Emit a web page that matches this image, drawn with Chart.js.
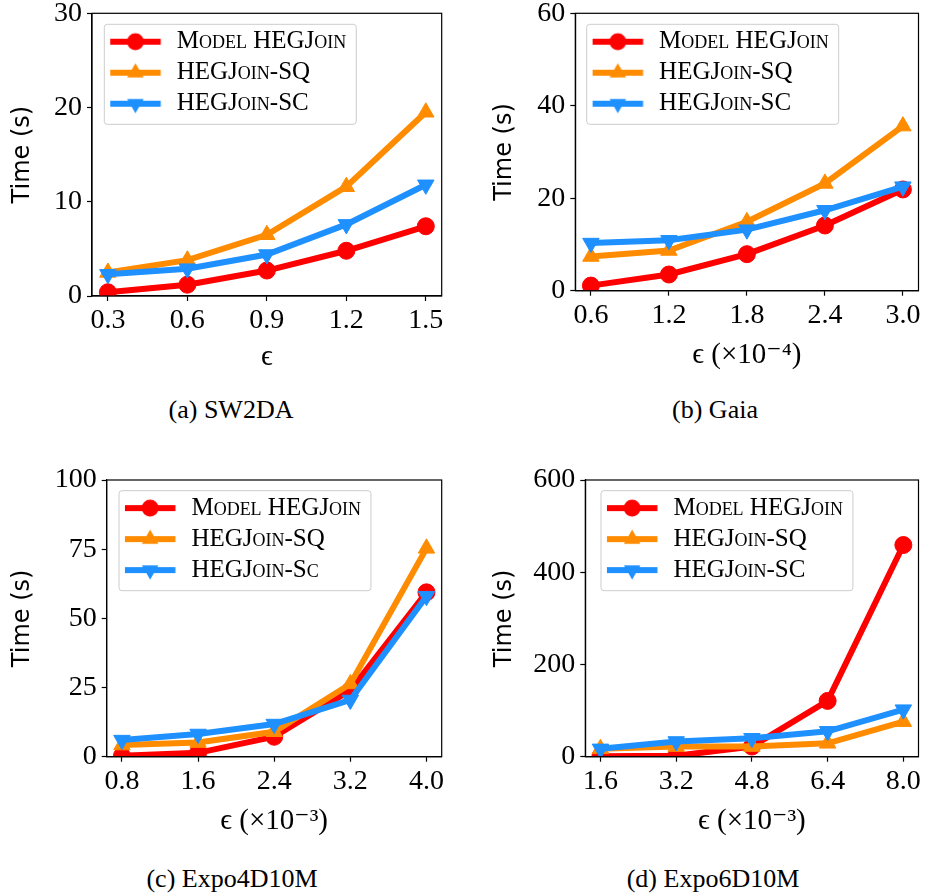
<!DOCTYPE html>
<html>
<head>
<meta charset="utf-8">
<script src="https://cdn.jsdelivr.net/npm/chart.js@4.4.0/dist/chart.umd.min.js"></script>
<style>
  body { margin: 0; background: #fff; width: 929px; height: 896px; position: relative; overflow: hidden; }
  canvas { position: absolute; }
  .cap { position: absolute; font-family: 'Liberation Serif', serif; font-size: 26px; color: #000;
         transform: translateX(-50%); white-space: nowrap; line-height: 26px; }
</style>
</head>
<body>
<canvas id="cA"></canvas>
<canvas id="cB"></canvas>
<canvas id="cC"></canvas>
<canvas id="cD"></canvas>
<div class="cap" style="left:231px; top:397px">(a) SW2DA</div>
<div class="cap" style="left:715px; top:397px">(b) Gaia</div>
<div class="cap" style="left:232px; top:866px">(c) Expo4D10M</div>
<div class="cap" style="left:713px; top:866px">(d) Expo6D10M</div>
<script>
// series names / colours
const names = ['Model HEGJoin', 'HEGJoin-SQ', 'HEGJoin-SC'];
const namesC = ['Model HEGJoin', 'HEGJoin-SQ', 'HEGJoin-Sc'];
const colors = ['#ff0000', '#ff8c00', '#1e90ff'];

// (a) SW2DA
const epsA = [0.3, 0.6, 0.9, 1.2, 1.5];
const modelA = [0.4, 1.2, 2.7, 4.8, 7.4];
const sqA = [2.5, 3.8, 6.5, 11.6, 19.5];
const scA = [2.3, 2.9, 4.4, 7.6, 11.8];

// (b) Gaia
const epsB = [0.6, 1.2, 1.8, 2.4, 3.0];
const modelB = [1.1, 3.5, 7.9, 14.1, 21.9];
const sqB = [7.4, 8.7, 14.9, 23.2, 35.6];
const scB = [10.3, 10.9, 13.2, 17.4, 22.5];

// (c) Expo4D10M
const epsC = [0.8, 1.6, 2.4, 3.2, 4.0];
const modelC = [0.3, 1.4, 7.2, 24, 59.4];
const sqC = [4.2, 5.1, 9.0, 26.3, 75.3];
const scC = [6.0, 8.2, 11.8, 20.5, 58];

// (d) Expo6D10M
const epsD = [1.6, 3.2, 4.8, 6.4, 8.0];
const modelD = [1, 2, 22, 121, 459];
const sqD = [17, 22, 22, 29, 76];
const scD = [17, 33, 40, 55, 102];

const yMaxes = { A: 30, B: 60, C: 100, D: 600 };
const ySteps = { A: 10, B: 20, C: 25, D: 200 };

const serif = "'Liberation Serif', 'DejaVu Serif', serif";
const sans = "'DejaVu Sans', sans-serif";
const LEG_SIZE = 25;
const LEG_FONT = { family: serif, size: LEG_SIZE, weight: 'small-caps' };
const LEG_PAD = 6;
// frame-relative offsets measured on the reference
const LINE_IN = 6.4, TEXT_IN = 72.4, ROW1 = 17.4;
const LEG_BOX = TEXT_IN - (LINE_IN - 1) - LEG_SIZE / 2;

const pointStyles = ['circle', 'triangle', 'triangle'];
const pointRots = [0, 0, 180];
const pointRadii = [8.5, 9.5, 9.5];
const LINE_W = 6;

// little line+marker sample for each legend entry
function legendSample(i) {
  const c = document.createElement('canvas');
  c.width = Math.round(LEG_BOX); c.height = 24;
  const ctx = c.getContext('2d');
  ctx.strokeStyle = colors[i];
  ctx.fillStyle = colors[i];
  ctx.lineWidth = LINE_W;
  ctx.beginPath(); ctx.moveTo(1, 12); ctx.lineTo(51.5, 12); ctx.stroke();
  const cx = 26.2, cy = 12, r = pointRadii[i];
  ctx.beginPath();
  if (pointStyles[i] === 'circle') {
    ctx.arc(cx, cy, r, 0, Math.PI * 2);
  } else {
    let rad = pointRots[i] * Math.PI / 180;
    for (let k = 0; k < 3; k++) {
      const px = cx + Math.sin(rad) * r, py = cy - Math.cos(rad) * r;
      k === 0 ? ctx.moveTo(px, py) : ctx.lineTo(px, py);
      rad += Math.PI * 2 / 3;
    }
    ctx.closePath();
  }
  ctx.fill();
  return c;
}
const samples = [0, 1, 2].map(legendSample);

// spines on all four sides
const framePlugin = {
  id: 'frame',
  afterDraw(chart) {
    const { ctx, chartArea: a } = chart;
    ctx.save();
    ctx.strokeStyle = '#000';
    ctx.lineWidth = 1.2;
    ctx.strokeRect(a.left, a.top, a.right - a.left, a.bottom - a.top);
    ctx.restore();
  }
};

// put legend where matplotlib had it and draw its box
const legendBox = {
  id: 'legendBox',
  afterLayout(chart, args, opts) {
    const lg = chart.legend;
    const sampleW = Math.round(LEG_BOX);
    lg.left = opts.x + TEXT_IN - LEG_SIZE / 2 - sampleW - LEG_PAD;
    lg.top = opts.y + ROW1 - LEG_SIZE / 2 - LEG_PAD;
    lg.width = 400; lg.height = 200;
    lg.right = lg.left + 400; lg.bottom = lg.top + 200;
  },
  beforeDraw(chart, args, opts) {
    const ctx = chart.ctx;
    ctx.save();
    ctx.font = 'small-caps ' + LEG_SIZE + 'px ' + serif;
    const tw = Math.max(...chart.data.datasets.map(d => ctx.measureText(d.label).width));
    const w = TEXT_IN + tw + 10, h = 100;
    ctx.beginPath();
    if (ctx.roundRect) ctx.roundRect(opts.x, opts.y, w, h, 3); else ctx.rect(opts.x, opts.y, w, h);
    ctx.fillStyle = 'rgba(255,255,255,0.8)';
    ctx.fill();
    ctx.strokeStyle = '#cccccc';
    ctx.lineWidth = 1;
    ctx.stroke();
    ctx.restore();
  }
};

function makePanel(p) {
  const cv = document.getElementById(p.id);
  cv.style.left = p.box.left + 'px';
  cv.style.top = p.box.top + 'px';
  cv.width = p.box.w; cv.height = p.box.h;

  const aL = p.area.l - p.box.left, aT = p.area.t - p.box.top;
  const aR = p.area.r - p.box.left, aB = p.area.b - p.box.top;
  const xTitleLH = 29 * 1.2, yTitleLH = 24 * 1.2;
  const xBottom = (p.xTitleY - p.box.top) + xTitleLH / 2;
  const xHeight = xBottom - aB;
  const yPad = (p.yTitleX - p.box.left) - yTitleLH / 2;

  const first = p.eps[0], last = p.eps[p.eps.length - 1];
  const margin = (last - first) * 0.05;

  const datasets = p.series.map((vals, i) => ({
    label: p.names[i],
    data: p.eps.map((x, j) => ({ x: x, y: vals[j] })),
    borderColor: colors[i],
    backgroundColor: colors[i],
    borderWidth: LINE_W,
    pointStyle: pointStyles[i],
    rotation: pointRots[i],
    pointRadius: pointRadii[i],
    pointBorderWidth: 1,
    pointBorderColor: colors[i],
    pointBackgroundColor: colors[i],
    order: 3 - i,
    clip: 0,
    tension: 0
  }));

  const tickFont = { family: serif, size: 28, lineHeight: 0.9 };

  new Chart(cv, {
    type: 'line',
    data: { datasets: datasets },
    options: {
      responsive: false,
      animation: false,
      devicePixelRatio: 1,
      layout: { padding: { left: 0, top: aT, right: p.box.w - aR, bottom: p.box.h - xBottom } },
      scales: {
        x: {
          type: 'linear',
          min: first - margin,
          max: last + margin,
          afterBuildTicks: s => { s.ticks = p.eps.map(v => ({ value: v })); },
          afterFit: s => {
            s.height = xHeight;
            s.paddingLeft = s.paddingRight = s.paddingTop = s.paddingBottom = 0;
          },
          ticks: { callback: v => Number(v).toFixed(1), font: tickFont, color: '#000', padding: 7,
                   maxRotation: 0, autoSkip: false },
          grid: { drawOnChartArea: false, drawTicks: true, tickLength: 5, color: '#000', tickWidth: 1.2 },
          border: { display: true, color: '#000', width: 1.2 },
          title: { display: true, text: p.xTitle, font: { family: serif, size: 29 }, color: '#000', padding: 0 }
        },
        y: {
          min: 0,
          max: p.yMax,
          afterFit: s => {
            s.width = aL;
            s.paddingLeft = s.paddingRight = s.paddingTop = s.paddingBottom = 0;
          },
          ticks: { stepSize: p.yStep, font: tickFont, color: '#000', padding: 5 },
          grid: { drawOnChartArea: false, drawTicks: true, tickLength: 5, color: '#000', tickWidth: 1.2 },
          border: { display: true, color: '#000', width: 1.2 },
          title: { display: true, text: 'Time (s)', font: { family: sans, size: 24 }, color: '#000',
                   padding: { top: yPad, bottom: 0 } }
        }
      },
      plugins: {
        legend: {
          display: true,
          position: 'chartArea',
          align: 'start',
          labels: {
            usePointStyle: true,
            pointStyleWidth: Math.round(LEG_BOX),
            padding: LEG_PAD,
            font: LEG_FONT,
            color: '#000',
            generateLabels: chart => chart.data.datasets.map((d, i) => ({
              text: d.label,
              pointStyle: samples[i],
              fillStyle: colors[i],
              strokeStyle: colors[i],
              lineWidth: 0,
              hidden: false,
              datasetIndex: i,
              fontColor: '#000'
            }))
          }
        },
        tooltip: { enabled: false },
        legendBox: { x: p.legend.x - p.box.left, y: p.legend.y - p.box.top }
      }
    },
    plugins: [framePlugin, legendBox]
  });
}

makePanel({
  id: 'cA', box: { left: 0, top: 0, w: 466, h: 380 },
  area: { l: 92, t: 13.3, r: 441.7, b: 296 },
  eps: epsA, series: [modelA, sqA, scA], names: names,
  yMax: yMaxes.A, yStep: ySteps.A, xTitle: 'ϵ', xTitleY: 357, yTitleX: 23,
  legend: { x: 104.3, y: 24.3 }
});
makePanel({
  id: 'cB', box: { left: 470, top: 0, w: 459, h: 380 },
  area: { l: 575.3, t: 13.3, r: 923.3, b: 290.7 },
  eps: epsB, series: [modelB, sqB, scB], names: names,
  yMax: yMaxes.B, yStep: ySteps.B, xTitle: 'ϵ (×10⁻⁴)', xTitleY: 355, yTitleX: 504.5,
  legend: { x: 586.7, y: 24.3 }
});
makePanel({
  id: 'cC', box: { left: 0, top: 450, w: 466, h: 400 },
  area: { l: 106.7, t: 480, r: 441.7, b: 756.7 },
  eps: epsC, series: [modelC, sqC, scC], names: namesC,
  yMax: yMaxes.C, yStep: ySteps.C, xTitle: 'ϵ (×10⁻³)', xTitleY: 821, yTitleX: 23,
  legend: { x: 119, y: 490.7 }
});
makePanel({
  id: 'cD', box: { left: 470, top: 450, w: 459, h: 400 },
  area: { l: 585.3, t: 480, r: 923.3, b: 756.7 },
  eps: epsD, series: [modelD, sqD, scD], names: names,
  yMax: yMaxes.D, yStep: ySteps.D, xTitle: 'ϵ (×10⁻³)', xTitleY: 821, yTitleX: 504.5,
  legend: { x: 601, y: 490.7 }
});
</script>
</body>
</html>
